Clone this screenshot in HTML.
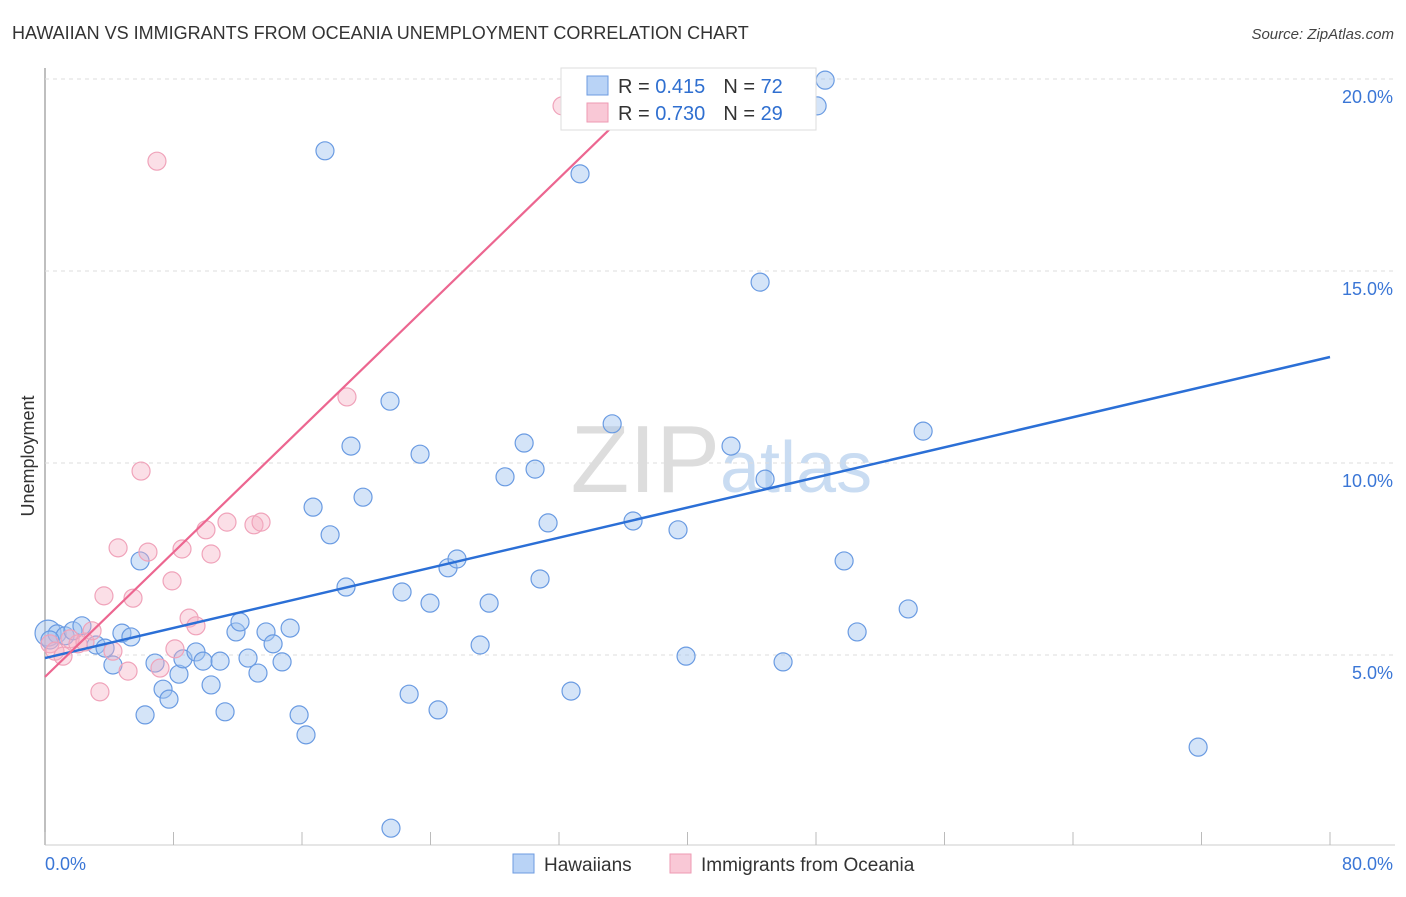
<!DOCTYPE html>
<html><head><meta charset="utf-8"><style>
body{margin:0;background:#fff;font-family:"Liberation Sans",sans-serif;}
svg text{font-family:"Liberation Sans",sans-serif;}
</style></head><body>
<svg id="chart" width="1406" height="892">
<text x="12" y="39" font-size="18" fill="#333">HAWAIIAN VS IMMIGRANTS FROM OCEANIA UNEMPLOYMENT CORRELATION CHART</text>
<text x="1394" y="39" font-size="15" fill="#444" font-style="italic" text-anchor="end">Source: ZipAtlas.com</text>
<text x="720" y="492" font-size="96" fill="#ddd" text-anchor="end" font-family="Liberation Serif">ZIP</text>
<text x="720" y="492" font-size="72" fill="#c9dcf2">atlas</text>
<text transform="translate(34,456) rotate(-90)" font-size="18" fill="#333" text-anchor="middle">Unemployment</text>
<g id="grid"></g><g id="pts"></g><g id="lines"></g>
<g>
<rect x="561" y="68" width="255" height="62" fill="#fff" stroke="#ddd"/>
<rect x="587" y="76" width="21" height="19" fill="#b9d3f6" stroke="#6d9be0"/>
<rect x="587" y="103" width="21" height="19" fill="#f9c8d6" stroke="#ee9ab3"/>
<text x="618" y="93" font-size="20" fill="#333">R = <tspan fill="#2f6fd0">0.415</tspan><tspan dx="18">N = </tspan><tspan fill="#2f6fd0">72</tspan></text>
<text x="618" y="120" font-size="20" fill="#333">R = <tspan fill="#2f6fd0">0.730</tspan><tspan dx="18">N = </tspan><tspan fill="#2f6fd0">29</tspan></text>
</g>
<g>
<rect x="513" y="854" width="21" height="19" fill="#b9d3f6" stroke="#6d9be0"/>
<text x="544" y="871" font-size="19" fill="#333">Hawaiians</text>
<rect x="670" y="854" width="21" height="19" fill="#f9c8d6" stroke="#ee9ab3"/>
<text x="701" y="871" font-size="19" fill="#333">Immigrants from Oceania</text>
</g>
</svg>
<script>
const yTicks=[5,10,15,20];
const xTickLabels=["0.0%","80.0%"];
const blueX=[0.19,0.75,1.25,1.74,2.3,3.18,3.74,4.23,4.79,5.35,5.92,6.23,6.85,7.35,7.72,8.34,8.59,9.4,9.84,10.34,10.9,11.21,11.89,12.14,12.64,13.26,13.76,14.2,14.76,15.26,15.82,16.25,16.69,17.43,17.75,18.74,19.05,19.8,21.48,21.54,22.23,22.67,23.35,23.97,24.47,25.09,25.65,27.09,27.65,28.64,29.83,30.51,30.82,31.32,32.75,33.31,35.31,36.61,39.41,39.91,42.71,44.52,44.83,45.95,48.07,48.57,49.75,50.56,53.74,54.67,71.79,0.31];
const blueY=[5.57,5.55,5.5,5.63,5.76,5.26,5.18,4.74,5.57,5.47,7.45,3.44,4.79,4.11,3.85,4.5,4.9,5.08,4.84,4.22,4.84,3.52,5.6,5.86,4.92,4.53,5.6,5.29,4.82,5.7,3.44,2.92,8.85,18.13,8.13,6.77,10.44,9.11,11.61,0.49,6.64,3.98,10.23,6.35,3.57,7.27,7.5,5.26,6.35,9.64,10.52,9.84,6.98,8.44,4.06,17.53,11.02,8.49,8.26,4.97,10.44,14.71,9.58,4.82,19.3,19.97,7.45,5.6,6.2,10.83,2.6,5.39];
const pinkX=[0.31,0.62,1.12,1.56,2.05,2.49,2.93,3.42,3.67,4.23,4.55,5.17,5.48,5.98,6.41,6.97,7.16,7.91,8.09,8.53,8.97,9.4,10.02,10.34,11.33,13.01,13.45,18.8,32.19];
const pinkY=[5.29,5.1,4.97,5.42,5.29,5.34,5.63,4.04,6.54,5.1,7.79,4.58,6.48,9.79,7.68,17.86,4.66,6.93,5.16,7.76,5.96,5.76,8.26,7.63,8.46,8.39,8.46,11.72,19.3];
const blueTrend=[4.92,0.098];   // intercept, slope
const pinkTrend=[4.43,0.4057];
const NS="http://www.w3.org/2000/svg";
const X=v=>45+v/80*1285, Y=v=>847-v*38.4;
function mk(t,a,p){const e=document.createElementNS(NS,t);for(const k in a)e.setAttribute(k,a[k]);p.appendChild(e);return e;}
const grid=document.getElementById('grid');
mk('line',{x1:45,y1:68,x2:45,y2:845,stroke:'#aaa','stroke-width':1.5},grid);
mk('line',{x1:45,y1:845,x2:1395,y2:845,stroke:'#ccc'},grid);
mk('line',{x1:45,y1:79,x2:1395,y2:79,stroke:'#ddd','stroke-dasharray':'4,4'},grid);
for(const t of yTicks){
 const g=mk('line',{x1:45,y1:Y(t),x2:1395,y2:Y(t),stroke:'#ddd','stroke-dasharray':'4,4'},grid);
 
 
 const tx=mk('text',{x:1393,y:Y(t)+24,'font-size':18,fill:'#3a76d6','text-anchor':'end'},grid);
 tx.textContent=t.toFixed(1)+'%';
 
 
}
for(let i=0;i<=10;i++){const x=X(i*8);mk('line',{x1:x,y1:832,x2:x,y2:845,stroke:'#bbb'},grid);}
const l0=mk('text',{x:45,y:870,'font-size':18,fill:'#3a76d6'},grid);l0.textContent=xTickLabels[0];


const l1=mk('text',{x:1393,y:870,'font-size':18,fill:'#3a76d6','text-anchor':'end'},grid);l1.textContent=xTickLabels[1];


const pts=document.getElementById('pts');
blueX.forEach((x,i)=>{const c=mk('circle',{cx:X(x),cy:Y(blueY[i]),r:i==0?13:9,fill:'rgba(160,195,240,0.45)',stroke:'#6a9be2','stroke-width':1.2},pts);
 
 });
pinkX.forEach((x,i)=>{const c=mk('circle',{cx:X(x),cy:Y(pinkY[i]),r:9,fill:'rgba(246,175,196,0.4)',stroke:'#f0a3ba','stroke-width':1.2},pts);
 
 });
const lines=document.getElementById('lines');
const bl=mk('line',{x1:X(0),y1:Y(blueTrend[0]),x2:X(80),y2:Y(blueTrend[0]+80*blueTrend[1]),stroke:'#2b6fd6','stroke-width':2.5},lines);


const pe=Math.min(80,(19.85-pinkTrend[0])/pinkTrend[1]);
const pl=mk('line',{x1:X(0),y1:Y(pinkTrend[0]),x2:X(pe),y2:Y(pinkTrend[0]+pe*pinkTrend[1]),stroke:'#ec6690','stroke-width':2.2},lines);


</script>
</body></html>
